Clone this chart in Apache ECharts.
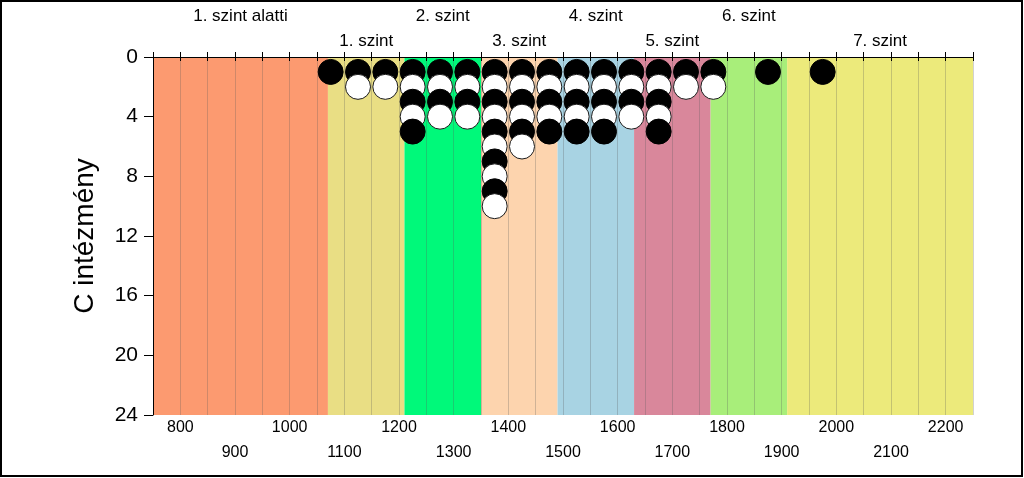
<!DOCTYPE html>
<html>
<head>
<meta charset="utf-8">
<script src="https://cdn.jsdelivr.net/npm/echarts@6/dist/echarts.min.js"></script>
<style>
html,body{margin:0;padding:0;background:#fff;}
#c{width:1024px;height:478px;}
</style>
</head>
<body>
<div id="c"></div>
<script>
// ---- data ----
const bandEdges = [750, 1070, 1210, 1350, 1490, 1630, 1770, 1910, 2250];
const bandNames = ['1. szint alatti', '1. szint', '2. szint', '3. szint', '4. szint', '5. szint', '6. szint', '7. szint'];
const blackDots = [
  [1075,1],[1125,1],[1175,1],
  [1225,1],[1225,3],[1225,5],
  [1275,1],[1275,3],
  [1325,1],[1325,3],
  [1375,1],[1375,3],[1375,5],[1375,7],[1375,9],
  [1425,1],[1425,3],[1425,5],
  [1475,1],[1475,3],[1475,5],
  [1525,1],[1525,3],[1525,5],
  [1575,1],[1575,3],[1575,5],
  [1625,1],[1625,3],
  [1675,1],[1675,3],[1675,5],
  [1725,1],[1775,1],[1875,1],[1975,1]
];
const whiteDots = [
  [1125,2],[1175,2],
  [1225,2],[1225,4],
  [1275,2],[1275,4],
  [1325,2],[1325,4],
  [1375,2],[1375,4],[1375,6],[1375,8],[1375,10],
  [1425,2],[1425,4],[1425,6],
  [1475,2],[1475,4],
  [1525,2],[1525,4],
  [1575,2],[1575,4],
  [1625,2],[1625,4],
  [1675,2],[1675,4],
  [1725,2],[1775,2]
];
const xMin = 750, xMax = 2250, xStep = 50;
const yTicks = [0, 4, 8, 12, 16, 20, 24];

// ---- styles ----
const bandColors = ['#FC9A70', '#E9DE84', '#00F97A', '#FDD4AE', '#A8D3E3', '#D9879B', '#A8EE7A', '#ECEA7B'];
const labelFont = 'Liberation Sans, Arial, sans-serif';

const bandData = bandNames.map((n, i) => [bandEdges[i], bandEdges[i + 1], i]);

const dots = []
  .concat(blackDots.map(d => ({value: d, itemStyle: {color: '#000', borderColor: '#000', borderWidth: 1, opacity: 1}})))
  .concat(whiteDots.map(d => ({value: d, itemStyle: {color: '#fff', borderColor: '#1a1a1a', borderWidth: 1, opacity: 1}})))
  .sort((a, b) => a.value[1] - b.value[1] || a.value[0] - b.value[0]);

const chart = echarts.init(document.getElementById('c'), null, {renderer: 'canvas'});
const baseX = {type: 'value', min: xMin, max: xMax, interval: xStep};
chart.setOption({
  animation: false,
  backgroundColor: '#fff',
  textStyle: {fontFamily: labelFont},
  grid: {left: 153, right: 51, top: 57, bottom: 63, containLabel: false},
  graphic: [{
    type: 'rect', silent: true, z: 100,
    shape: {x: 1, y: 1, width: 1021, height: 475},
    style: {fill: 'none', stroke: '#000', lineWidth: 2}
  }],
  xAxis: [
    Object.assign({}, baseX, {
      position: 'bottom',
      axisLine: {show: true, lineStyle: {color: '#000', width: 1}},
      axisTick: {show: true, length: 4, lineStyle: {color: '#000'}},
      splitLine: {show: true, lineStyle: {color: 'rgba(90,90,90,0.28)', width: 1}},
      axisLabel: {
        show: true, margin: 5, fontSize: 16, color: '#000', fontFamily: labelFont,
        showMinLabel: true, showMaxLabel: true, hideOverlap: false,
        formatter: v => (v % 200 === 0 ? String(v) : '')
      }
    }),
    Object.assign({}, baseX, {
      position: 'bottom',
      axisLine: {show: false}, axisTick: {show: false}, splitLine: {show: false},
      axisLabel: {
        show: true, margin: 30, fontSize: 16, color: '#000', fontFamily: labelFont,
        hideOverlap: false,
        formatter: v => (v % 200 === 100 ? String(v) : '')
      }
    }),
    Object.assign({}, baseX, {
      position: 'top',
      axisLine: {show: true, onZero: false, lineStyle: {color: '#000', width: 1}},
      axisTick: {show: true, length: 5, lineStyle: {color: '#000'}},
      splitLine: {show: false},
      axisLabel: {show: false}
    })
  ],
  yAxis: {
    type: 'value', inverse: true, min: yTicks[0], max: yTicks[yTicks.length - 1], interval: 4,
    name: 'C intézmény', nameLocation: 'middle', nameGap: 54,
    nameTextStyle: {fontSize: 28, color: '#000', fontFamily: labelFont},
    axisLine: {show: true, lineStyle: {color: '#000', width: 1}},
    axisTick: {show: true, length: 9, lineStyle: {color: '#000'}},
    splitLine: {show: false},
    axisLabel: {fontSize: 21, color: '#000', margin: 15, fontFamily: labelFont}
  },
  series: [
    {
      type: 'custom', z: -1, silent: true, clip: false,
      xAxisIndex: 0, yAxisIndex: 0,
      data: bandData,
      renderItem: function (params, api) {
        const p0 = api.coord([api.value(0), yTicks[0]]);
        const p1 = api.coord([api.value(1), yTicks[yTicks.length - 1]]);
        const idx = api.value(2);
        const cx = (p0[0] + p1[0]) / 2;
        const top = Math.min(p0[1], p1[1]);
        return {
          type: 'group',
          children: [
            {type: 'rect', shape: {x: p0[0], y: top, width: p1[0] - p0[0], height: Math.abs(p1[1] - p0[1])},
             style: {fill: bandColors[idx]}},
            {type: 'text', x: cx, y: top - (idx % 2 === 0 ? 41 : 16),
             style: {text: bandNames[idx], fill: '#000', font: '17px ' + labelFont, align: 'center', verticalAlign: 'middle'}}
          ]
        };
      }
    },
    {
      type: 'scatter', xAxisIndex: 0, yAxisIndex: 0, z: 3,
      symbol: 'circle', symbolSize: 25,
      itemStyle: {opacity: 1},
      data: dots
    }
  ]
});
</script>
</body>
</html>
